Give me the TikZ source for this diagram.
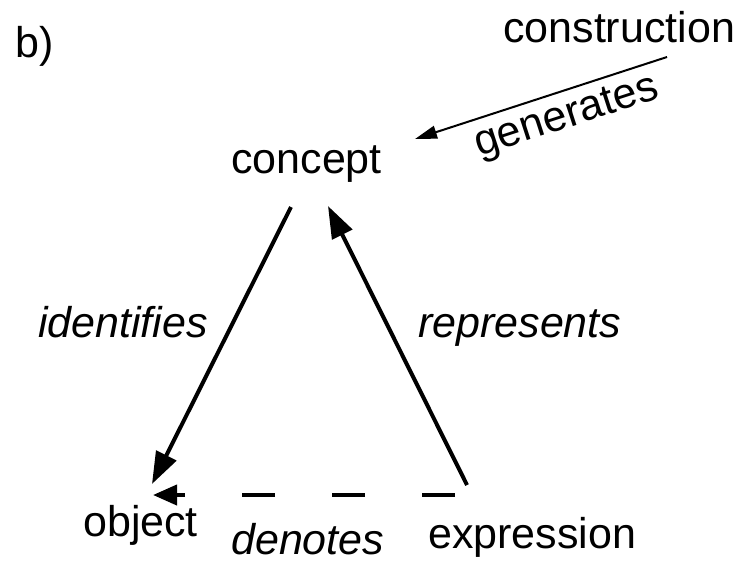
\documentclass[tikz,border=0pt]{standalone}
\usepackage{fontspec}
\setmainfont{Liberation Sans}
\usetikzlibrary{arrows.meta}
\begin{document}
\begin{tikzpicture}[x=1pt,y=-1pt,
  term/.style={anchor=base west, inner sep=0pt, font=\fontsize{43}{50}\selectfont},
  relname/.style={term, font=\fontsize{43}{50}\selectfont\itshape},
  conn/.style={line width=4pt, -{Triangle[length=32pt,width=22pt]}},
  genconn/.style={line width=2pt, -{Triangle[length=22pt,width=13pt]}},
  denconn/.style={line width=4pt, dash pattern=on 33pt off 57pt,
    -{Triangle[length=24pt,width=20pt]}}]
  \useasboundingbox (0,0) rectangle (754,560);

  % panel tag and the four terms
  \node[term] (tag) at (15,57) {b)};
  \node[term] (construction) at (503,42) {construction};
  \node[term] (concept) at (231,173) {concept};
  \node[term] (object) at (83,536) {object};
  \node[term] (expression) at (428,548) {expression};

  % relation labels
  \node[relname] (identifies) at (38,337) {identifies};
  \node[relname] (represents) at (418,337) {represents};
  \node[relname] (denotes) at (231,554) {denotes};
  \node[anchor=base, inner sep=0pt, font=\fontsize{43}{50}\selectfont,
        rotate=18] (generates) at (570,127) {generates};

  % connector end points around the terms
  \coordinate (concept-l) at (291,207);
  \coordinate (concept-r) at (328,206);
  \coordinate (object-t) at (152,484);
  \coordinate (object-r) at (153,495);
  \coordinate (expression-t) at (467,485);
  \coordinate (expression-l) at (455,495);
  \coordinate (construction-b) at (667,57);
  \coordinate (concept-e) at (415,139);

  % connectors
  \draw[conn] (concept-l) -- (object-t);
  \draw[conn] (expression-t) -- (concept-r);
  \draw[denconn] (expression-l) -- (object-r);
  \draw[genconn] (construction-b) -- (concept-e);
\end{tikzpicture}
\end{document}
